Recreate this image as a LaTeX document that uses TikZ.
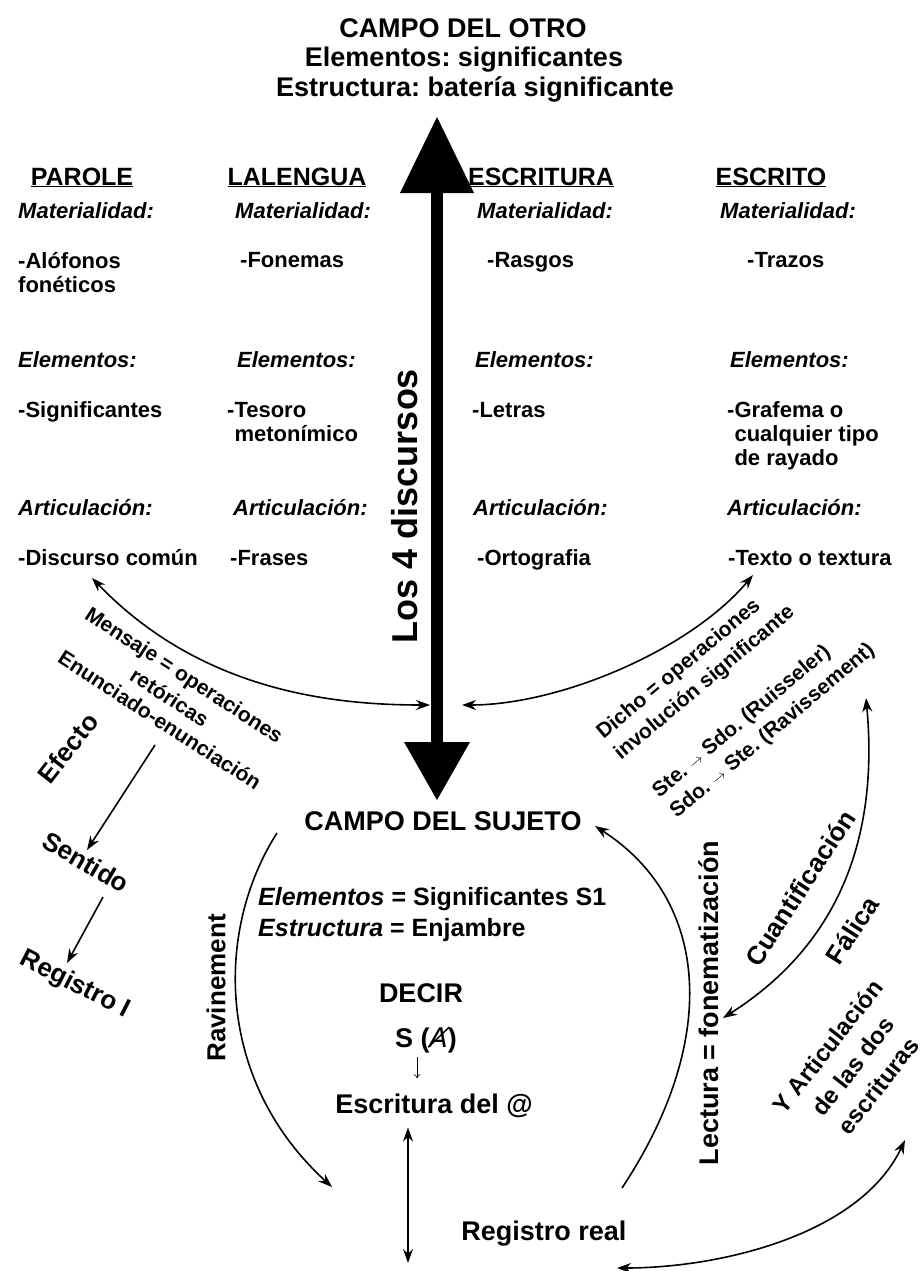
\documentclass[tikz,border=0pt]{standalone}
\usepackage{fontspec}
\setmainfont{Liberation Sans}
\newfontfamily\dejavu{DejaVu Sans}
\usetikzlibrary{arrows.meta}
\frenchspacing

\tikzset{
  tit/.style={font=\fontsize{27}{31}\selectfont\bfseries, anchor=base, inner sep=0pt},
  colhead/.style={font=\fontsize{25}{30}\selectfont\bfseries, anchor=base, inner sep=0pt},
  campo/.style={font=\fontsize{22}{25}\selectfont\bfseries\itshape, anchor=base west, inner sep=0pt},
  item/.style={font=\fontsize{22}{24}\selectfont\bfseries, anchor=base west, inner sep=0pt, align=left},
  diag/.style={font=\fontsize{21}{27}\selectfont\bfseries, inner sep=0pt},
  biglbl/.style={font=\fontsize{26}{31}\selectfont\bfseries, inner sep=0pt},
  arr/.style={line width=1.6pt, -{Stealth[length=14pt,width=10pt]}},
  dblarr/.style={line width=1.6pt, {Stealth[length=14pt,width=10pt]}-{Stealth[length=14pt,width=10pt]}},
}

\begin{document}
\begin{tikzpicture}[x=1pt,y=1pt]
\useasboundingbox (0,0) rectangle (922,-1271);

% campo del Otro
\node[tit] (otro) at (463,-38) {CAMPO DEL OTRO};
\node[tit] (otroel) at (464,-67) {Elementos: significantes};
\node[tit] (otroes) at (475,-97) {Estructura: batería significante};

% las cuatro columnas (multilinea: base = ultima linea)
\node[colhead] (parole) at (82,-185) {\underline{PAROLE}};
\node[colhead] (lalengua) at (297,-185) {\underline{LALENGUA}};
\node[colhead] (escritura) at (541,-185) {\underline{ESCRITURA}};
\node[colhead] (escrito) at (771,-185) {\underline{ESCRITO}};

\node[campo] (pamat) at (18,-218) {Materialidad:};
\node[item] (paalo) at (18,-292) {-Alófonos\\fonéticos};
\node[campo] (paele) at (18,-367) {Elementos:};
\node[item] (pasig) at (18,-417) {-Significantes};
\node[campo] (paart) at (18,-515) {Articulación:};
\node[item] (padis) at (18,-565) {-Discurso común};

\node[campo] (lamat) at (235,-218) {Materialidad:};
\node[item] (lafon) at (240,-267) {-Fonemas};
\node[campo] (laele) at (237,-367) {Elementos:};
\node[item] (lates) at (227,-441) {-Tesoro\\\phantom{-}metonímico};
\node[campo] (laart) at (233,-515) {Articulación:};
\node[item] (lafra) at (230,-565) {-Frases};

\node[campo] (eumat) at (477,-218) {Materialidad:};
\node[item] (euras) at (487,-267) {-Rasgos};
\node[campo] (euele) at (475,-367) {Elementos:};
\node[item] (eulet) at (472,-417) {-Letras};
\node[campo] (euart) at (473,-515) {Articulación:};
\node[item] (euort) at (477,-565) {-Ortografia};

\node[campo] (eomat) at (720,-218) {Materialidad:};
\node[item] (eotra) at (747,-267) {-Trazos};
\node[campo] (eoele) at (730,-367) {Elementos:};
\node[item] (eogra) at (727,-465) {-Grafema o\\\phantom{-}cualquier tipo\\\phantom{-}de rayado};
\node[campo] (eoart) at (727,-515) {Articulación:};
\node[item] (eotex) at (728,-565) {-Texto o textura};

% los 4 discursos
\coordinate (toptip) at (437,-117);
\coordinate (bottip) at (437,-800);
\draw[line width=12pt] ([yshift=-70pt]toptip) -- ([yshift=52pt]bottip);
\fill (toptip) -- ++(-37,-76) -- ++(74,0) -- cycle;
\fill (bottip) -- ++(-33,58) -- ++(66,0) -- cycle;
\node[font=\fontsize{36}{40}\selectfont\bfseries, rotate=90, inner sep=0pt] (los) at (405,-506) {Los 4 discursos};

% lado izquierdo
\coordinate (ml1) at (92,-578);
\coordinate (ml2) at (430,-705);
\draw[dblarr] (ml1) .. controls (200,-690) and (330,-705) .. (ml2);
\node[diag, rotate=-33, align=center] (mens) at (177,-686) {Mensaje = operaciones\\retóricas};
\node[diag, rotate=-33] (enun) at (160,-720) {Enunciado-enunciación};
\node[biglbl, rotate=52] (efecto) at (68,-748) {Efecto};
\node[biglbl, rotate=-30] (sentido) at (86,-862) {Sentido};
\node[biglbl, rotate=-27] (regI) at (75,-985) {Registro I};
\coordinate (ef1) at (155,-745);
\coordinate (ef2) at (87,-850);
\draw[arr] (ef1) -- (ef2);
\coordinate (se1) at (103,-897);
\coordinate (se2) at (67,-963);
\draw[arr] (se1) -- (se2);

% lado derecho
\coordinate (dr1) at (462,-705);
\coordinate (dr2) at (753,-575);
\draw[dblarr] (dr1) .. controls (560,-705) and (690,-650) .. (dr2);
\node[diag, rotate=40, align=left] (dicho) at (696,-673) {Dicho = operaciones\\involución significante};
\node[diag, rotate=40, align=left] (ste) at (764,-721) {Ste. {\fontsize{15}{15}\selectfont$\rightarrow$} Sdo. (Ruisseler)\\Sdo. {\fontsize{15}{15}\selectfont$\rightarrow$} Ste. (Ravissement)};

% campo del sujeto
\node[tit] (sujeto) at (443,-830) {CAMPO DEL SUJETO};
\node[item, font=\fontsize{25}{31}\selectfont\bfseries] (sujel) at (258,-936) {\textit{Elementos} = Significantes S1\\\textit{Estructura} = Enjambre};
\node[tit] (decir) at (421,-1002) {DECIR};
\node[tit] (sa) at (426,-1047) {S ({\dejavu\mdseries\itshape Ⱥ})};
\node[tit] (escr) at (434,-1113) {Escritura del @};
\node[tit] (regreal) at (544,-1240) {Registro real};
\draw[line width=0.6pt, -{To[length=4pt,width=7pt]}, shorten <=4pt, shorten >=15pt]
  ([xshift=-9pt]sa.south) -- ([xshift=-17pt]escr.north);
\coordinate (rb) at (408,-1263);
\draw[dblarr, shorten <=10pt] (escr.south -| rb) -- (rb);

% ravinement y lectura
\coordinate (rv1) at (277,-833);
\coordinate (rv2) at (332,-1187);
\draw[arr] (rv1) .. controls (215,-930) and (215,-1080) .. (rv2);
\node[biglbl, rotate=90] (ravin) at (216,-988) {Ravinement};
\coordinate (lc1) at (622,-1188);
\coordinate (lc2) at (595,-826);
\draw[arr] (lc1) .. controls (720,-1040) and (710,-900) .. (lc2);
\node[biglbl, font=\fontsize{27}{31}\selectfont\bfseries, rotate=90] (lect) at (709,-1003) {Lectura = fonematización};

% cuantificacion falica
\coordinate (cu1) at (866,-698);
\coordinate (cu2) at (723,-1018);
\draw[dblarr] (cu1) .. controls (880,-850) and (830,-950) .. (cu2);
\node[biglbl, rotate=57] (cuant) at (800,-888) {Cuantificación};
\node[biglbl, rotate=57] (falica) at (852,-930) {Fálica};

% articulacion de las dos escrituras
\coordinate (ya1) at (905,-1140);
\coordinate (ya2) at (617,-1268);
\draw[dblarr] (ya1) .. controls (860,-1235) and (720,-1268) .. (ya2);
\node[biglbl, font=\fontsize{24}{32}\selectfont\bfseries, rotate=52, align=center] (yart) at (853,-1066) {Y Articulación\\de las dos\\escrituras};
\end{tikzpicture}
\end{document}
